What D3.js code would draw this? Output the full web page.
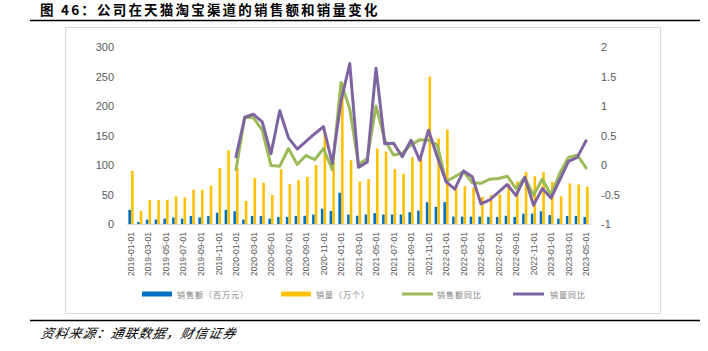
<!DOCTYPE html>
<html>
<head>
<meta charset="utf-8">
<script src="https://cdnjs.cloudflare.com/ajax/libs/d3/7.8.5/d3.min.js"></script>
<style>
  html, body { margin: 0; padding: 0; background: #fff; }
  svg { display: block; }
</style>
</head>
<body>
<svg id="chart" width="708" height="351"></svg>
<script>
const months = [
  "2019-01-01","2019-02-01","2019-03-01","2019-04-01","2019-05-01","2019-06-01","2019-07-01","2019-08-01","2019-09-01","2019-10-01","2019-11-01","2019-12-01",
  "2020-01-01","2020-02-01","2020-03-01","2020-04-01","2020-05-01","2020-06-01","2020-07-01","2020-08-01","2020-09-01","2020-10-01","2020-11-01","2020-12-01",
  "2021-01-01","2021-02-01","2021-03-01","2021-04-01","2021-05-01","2021-06-01","2021-07-01","2021-08-01","2021-09-01","2021-10-01","2021-11-01","2021-12-01",
  "2022-01-01","2022-02-01","2022-03-01","2022-04-01","2022-05-01","2022-06-01","2022-07-01","2022-08-01","2022-09-01","2022-10-01","2022-11-01","2022-12-01",
  "2023-01-01","2023-02-01","2023-03-01","2023-04-01","2023-05-01"
];
// 销售额（百万元）
const salesAmount = [
  24, 3.5, 7.5, 7.5, 9, 11, 9, 13.5, 11, 13.5, 19, 24,
  21.5, 7.5, 13.6, 13.6, 9, 12, 12, 13.6, 14, 16, 26, 22,
  53, 16, 14, 16, 18.5, 16, 16, 16, 20, 22.5, 37, 29,
  37, 12.5, 12.5, 12.5, 12.5, 12, 12, 14, 12, 17.5, 17.5, 21.5,
  15, 9, 13.6, 13.6, 11.5
];
// 销量（万个）
const salesVolume = [
  90, 22, 41, 41, 41, 47, 45, 58, 58, 65, 95, 125,
  95, 39, 78, 70, 49, 93, 68, 75, 80, 100, 157, 105,
  240, 108, 72, 76, 128, 123, 93, 85, 113, 110, 250, 145,
  160, 63, 64, 62, 46, 49, 50, 68, 72, 88, 81, 88,
  71, 47, 69, 67, 63
];
// 销售额同比
const amountYoY = [
  null, null, null, null, null, null, null, null, null, null, null, null,
  -0.08, 0.81, 0.80, 0.59, -0.01, -0.02, 0.28, 0.01, 0.16, 0.09, 0.28, -0.08,
  1.40, 0.95, 0.01, 0.11, 1.00, 0.42, 0.17, 0.20, 0.34, 0.43, 0.42, 0.34,
  -0.28, -0.20, -0.11, -0.30, -0.31, -0.24, -0.23, -0.19, -0.40, -0.21, -0.51, -0.24,
  -0.51, -0.14, 0.13, 0.17, -0.05
];
// 销量同比
const volumeYoY = [
  null, null, null, null, null, null, null, null, null, null, null, null,
  0.14, 0.81, 0.86, 0.73, 0.19, 0.92, 0.46, 0.27, 0.40, 0.53, 0.65, 0.03,
  1.08, 1.72, -0.04, 0.05, 1.64, 0.36, 0.37, 0.14, 0.42, 0.08, 0.59, 0.14,
  -0.28, -0.41, -0.10, -0.20, -0.66, -0.59, -0.46, -0.33, -0.52, -0.21, -0.68, -0.40,
  -0.56, -0.25, 0.06, 0.13, 0.41
];
const leftTicks = [0, 50, 100, 150, 200, 250, 300];
const rightTicks = [-1, -0.5, 0, 0.5, 1, 1.5, 2];
const legendLabels = ["销售额（百万元）", "销量（万个）", "销售额同比", "销量同比"];
const titleText = "图 46：公司在天猫淘宝渠道的销售额和销量变化";
const sourceText = "资料来源：通联数据，财信证券";

const colors = { amount: "#0070c0", volume: "#ffc000", amountYoY: "#9bbb59", volumeYoY: "#8064a2" };

const svg = d3.select("#chart");

// Title
svg.append("text")
  .attr("x", 40).attr("y", 15)
  .attr("font-family", "'Noto Sans CJK SC', sans-serif")
  .attr("font-weight", "bold")
  .attr("font-size", 13.5)
  .attr("letter-spacing", 2.2)
  .attr("fill", "#000")
  .text(titleText);

svg.append("line").attr("x1", 30).attr("x2", 700).attr("y1", 20.5).attr("y2", 20.5)
  .attr("stroke", "#000").attr("stroke-width", 1.5);

// Chart frame
svg.append("rect").attr("x", 65.5).attr("y", 27.5).attr("width", 595).attr("height", 286)
  .attr("fill", "#fff").attr("stroke", "#d9d9d9").attr("stroke-width", 1);

// Bottom line & source
svg.append("line").attr("x1", 30).attr("x2", 700).attr("y1", 320.5).attr("y2", 320.5)
  .attr("stroke", "#000").attr("stroke-width", 1.5);
svg.append("text")
  .attr("x", 40).attr("y", 338)
  .attr("font-family", "'Noto Sans CJK SC', sans-serif")
  .attr("font-style", "italic")
  .attr("font-size", 13)
  .attr("letter-spacing", 1)
  .attr("fill", "#000")
  .attr("transform", "skewX(-12)")
  .attr("transform-origin", "40 338")
  .text(sourceText);

// Scales
const x = d3.scaleBand().domain(months).range([126.6, 590.4]).padding(0);
const bw = x.bandwidth();
const x1 = d3.scaleBand().domain(["amount", "volume"]).range([bw / 2 - 2.7, bw / 2 + 2.7]).padding(0.03);
const yL = d3.scaleLinear().domain([0, 300]).range([224, 47]);
const yR = d3.scaleLinear().domain([-1, 2]).range([224, 47]);

// Left axis
const axL = svg.append("g").attr("transform", "translate(117,0)")
  .call(d3.axisLeft(yL).tickValues(leftTicks).tickSize(0).tickPadding(3));
axL.select(".domain").remove();
axL.selectAll("text").attr("font-family", "'Liberation Sans', Arial, sans-serif")
  .attr("font-size", 11).attr("fill", "#595959");

// Right axis
const axR = svg.append("g").attr("transform", "translate(598,0)")
  .call(d3.axisRight(yR).tickValues(rightTicks).tickSize(0).tickPadding(3).tickFormat(d => String(d)));
axR.select(".domain").remove();
axR.selectAll("text").attr("font-family", "'Liberation Sans', Arial, sans-serif")
  .attr("font-size", 11).attr("fill", "#595959");

// Bars
const bars = svg.append("g");
bars.selectAll("rect.amount").data(months).join("rect").attr("class", "amount")
  .attr("x", (d) => x(d) + x1("amount"))
  .attr("width", x1.bandwidth())
  .attr("y", (d, i) => yL(salesAmount[i]))
  .attr("height", (d, i) => yL(0) - yL(salesAmount[i]))
  .attr("fill", colors.amount);
bars.selectAll("rect.volume").data(months).join("rect").attr("class", "volume")
  .attr("x", (d) => x(d) + x1("volume"))
  .attr("width", x1.bandwidth())
  .attr("y", (d, i) => yL(salesVolume[i]))
  .attr("height", (d, i) => yL(0) - yL(salesVolume[i]))
  .attr("fill", colors.volume);

// Bottom axis
const axB = svg.append("g").attr("transform", "translate(0,224)")
  .call(d3.axisBottom(x).tickValues(months.filter((d, i) => i % 2 === 0)).tickSize(0).tickPadding(0));
axB.select(".domain").attr("stroke", "#d9d9d9").attr("stroke-width", 1);
axB.selectAll("text")
  .attr("font-family", "'Liberation Sans', Arial, sans-serif")
  .attr("font-size", 8.6).attr("fill", "#595959")
  .attr("text-anchor", "end")
  .attr("dy", "0.35em")
  .attr("transform", "translate(0,8) rotate(-90)")
  .attr("y", 0).attr("x", 0);

// Lines
const lineGen = (arr) => d3.line()
  .defined((d, i) => arr[i] !== null)
  .x((d) => x(d) + bw / 2)
  .y((d, i) => yR(arr[i]));
svg.append("path").datum(months).attr("d", lineGen(amountYoY))
  .attr("fill", "none").attr("stroke", colors.amountYoY).attr("stroke-width", 3)
  .attr("stroke-linejoin", "round").attr("stroke-linecap", "round");
svg.append("path").datum(months).attr("d", lineGen(volumeYoY))
  .attr("fill", "none").attr("stroke", colors.volumeYoY).attr("stroke-width", 3)
  .attr("stroke-linejoin", "round").attr("stroke-linecap", "round");

// Legend
const legendItems = [
  { label: legendLabels[0], color: colors.amount, type: "bar", x: 142, tx: 177 },
  { label: legendLabels[1], color: colors.volume, type: "bar", x: 281, tx: 316 },
  { label: legendLabels[2], color: colors.amountYoY, type: "line", x: 402, tx: 437 },
  { label: legendLabels[3], color: colors.volumeYoY, type: "line", x: 513, tx: 550 }
];
const lg = svg.append("g");
legendItems.forEach(it => {
  if (it.type === "bar") {
    lg.append("rect").attr("x", it.x).attr("y", 291.5).attr("width", 30).attr("height", 5).attr("fill", it.color);
  } else {
    lg.append("line").attr("x1", it.x).attr("x2", it.x + 31).attr("y1", 294).attr("y2", 294)
      .attr("stroke", it.color).attr("stroke-width", 3);
  }
  lg.append("text").attr("x", it.tx).attr("y", 297.5)
    .attr("font-family", "'Noto Sans CJK SC', sans-serif")
    .attr("font-size", 8).attr("letter-spacing", 1)
    .attr("fill", "#7f7f7f")
    .text(it.label);
});
</script>
</body>
</html>
